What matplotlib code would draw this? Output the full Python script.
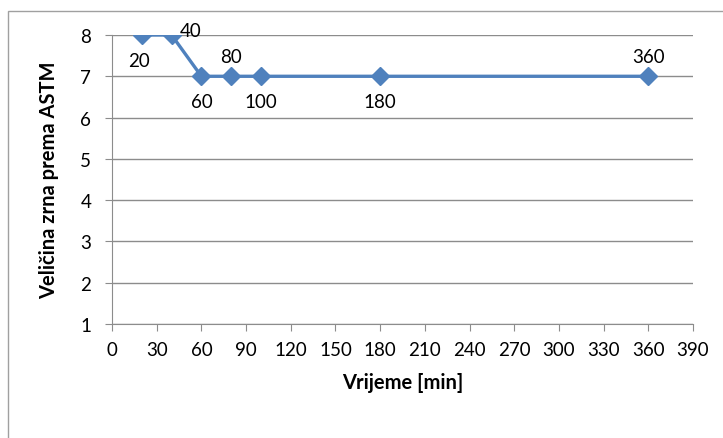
import matplotlib.pyplot as plt
from matplotlib.patches import Rectangle

time_min = [20, 40, 60, 80, 100, 180, 360]
grain_size = [8, 8, 7, 7, 7, 7, 7]
label_pos = ['below', 'right', 'below', 'above', 'below', 'below', 'above']
x_ticks = list(range(0, 391, 30))
y_ticks = list(range(1, 9))

plt.rcParams['font.family'] = ['Lato', 'DejaVu Sans']

fig = plt.figure(figsize=(7.23, 4.39), dpi=100)
ax = fig.add_axes([112 / 723, 1 - 325 / 439, (693 - 112) / 723, (325 - 36) / 439])

# outer chart frame (cut off at right and bottom like the original)
fig.patches.append(Rectangle((8 / 723, -0.05), 1.0, 1 - 12 / 439 + 0.05,
                             transform=fig.transFigure, fill=False,
                             edgecolor='#a0a0a0', linewidth=1.0))

ax.plot(time_min, grain_size, color='#4F81BD', linewidth=2.4,
        marker='D', markersize=9, zorder=3)

for x, y, pos in zip(time_min, grain_size, label_pos):
    if pos == 'below':
        ax.annotate(str(x), (x, y), xytext=(-2 if x == 20 else 0, -12),
                    textcoords='offset points', ha='center', va='top',
                    fontsize=13.5)
    elif pos == 'above':
        ax.annotate(str(x), (x, y), xytext=(0, 8), textcoords='offset points',
                    ha='center', va='bottom', fontsize=13.5)
    else:
        ax.annotate(str(x), (x, y), xytext=(6, 3), textcoords='offset points',
                    ha='left', va='center', fontsize=13.5)

ax.set_xlim(0, 390)
ax.set_ylim(1, 8)
ax.set_xticks(x_ticks)
ax.set_yticks(y_ticks)
ax.grid(axis='y', color='#8c8c8c', linewidth=1.0)
ax.set_axisbelow(True)
for s in ['top', 'right']:
    ax.spines[s].set_visible(False)
for s in ['left', 'bottom']:
    ax.spines[s].set_color('#8c8c8c')
ax.tick_params(axis='x', direction='out', length=5, color='#8c8c8c',
               labelsize=13.5, pad=7)
ax.tick_params(axis='y', direction='out', length=5, color='#8c8c8c',
               labelsize=13.5, pad=10)

ax.set_xlabel('Vrijeme [min]', fontsize=14.5, fontweight='bold', labelpad=10)
ax.set_ylabel('Veličina zrna prema ASTM', fontsize=14.5, fontweight='bold', labelpad=15)

fig.savefig('out.png', dpi=100)
